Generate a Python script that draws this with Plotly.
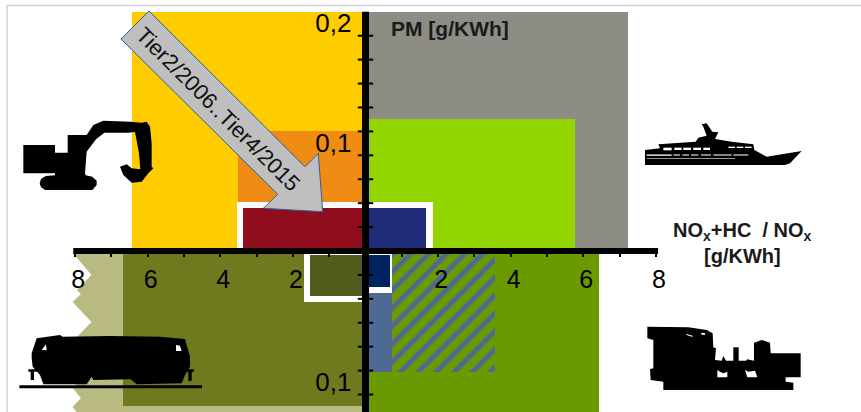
import plotly.graph_objects as go

W, H = 861, 412
X0_PX, X_UNIT = 365.5, 36.3
Y0_PX, Y_UNIT = 251.0, 1196.0

# Limit regions: x0, x1, y0, y1 (NOx units / PM units), drawing order
region_names = ["yellow", "orange", "white_ul", "red", "gray", "lime", "white_ur", "blue",
                "olive", "white_ll", "dark_olive", "green", "steel", "hatch", "white_lr", "navy"]
region_x0 = [-6.43, -3.51, -3.53, -3.37, 0, 0, 0, 0, -6.68, -1.69, -1.53, 0, 0, 0.73, 0, 0]
region_x1 = [0, 0, 0, 0, 7.23, 5.77, 1.85, 1.67, 0, 0, 0, 6.43, 0.73, 3.57, 0.73, 0.67]
region_y0 = [0, 0, 0, 0, 0, 0, 0, 0, -0.13, -0.043, -0.0376, -0.15, -0.101, -0.101, -0.035, -0.03]
region_y1 = [0.2, 0.1, 0.041, 0.036, 0.2, 0.11, 0.041, 0.036, 0, 0, -0.0036, 0, 0, 0, 0, -0.0036]
region_colors = ["#FFCC00", "#F08C14", "#FFFFFF", "#8F0D1C", "#8D8D86", "#92D500", "#FFFFFF", "#1F2D78",
                 "#6F7A1F", "#FFFFFF", "#525A1C", "#6B9900", "#4E6A92", "#6B9900", "#FFFFFF", "#00245F"]

# Pale region with a torn left edge
pale_x = [-8.08, -7.55, -7.95, -7.84, -8.07, -7.55, -7.95, -7.84, -8.07, -7.55, -8.07, -7.84, -8.07, -7.96, 0, 0]
pale_y = [-0.001, -0.0201, -0.0326, -0.036, -0.0427, -0.0594, -0.072, -0.0753, -0.0819, -0.0987, -0.1146,
          -0.123, -0.1305, -0.1346, -0.1346, 0]

x_major = [-8, -6, -4, -2, 2, 4, 6, 8]
x_labels = ["8", "6", "4", "2", "2", "4", "6", "8"]
x_minor = [-7, -5, -3, -1, 1, 3, 5, 7]
y_ticks = [0.18, 0.16, 0.14, 0.12, 0.1, 0.08, 0.06, 0.04, 0.02, -0.02, -0.04, -0.06, -0.08, -0.1, -0.12]
y_label_vals = [0.2, 0.1, -0.1]
y_labels = ["0,2", "0,1", "0,1"]

arrow_px = [(149, 11), (121, 39), (277.7, 194.3), (263.3, 208.3), (322.7, 211.7), (318.3, 153.3), (305, 166.7)]

def from_zoom(points, ox, oy, s=3.0):
    return [(ox + a / s, oy + b / s) for a, b in points]

excavator = from_zoom([(25,105),(120,105),(120,128),(158,128),(158,75),(215,75),(235,45),(265,32),(345,35),
    (380,38),(395,35),(405,50),(410,100),(410,170),(415,175),(400,190),(380,215),(350,218),(325,195),(315,170),
    (335,163),(350,175),(376,178),(372,130),(360,66),(340,68),(268,68),(243,88),(215,125),(210,190),(212,196),
    (232,200),(245,212),(245,225),(232,240),(90,240),(78,232),(74,220),(78,207),(92,198),(120,196),(120,190),(25,190)], 15, 110)
ship = from_zoom([(30,150),(30,105),(75,100),(70,88),(182,80),(190,68),(215,62),(205,35),(200,28),(215,25),
    (232,50),(250,52),(240,72),(290,80),(355,88),(358,105),(395,125),(500,108),(465,145),(450,150)], 635, 115)
ship_windows = [from_zoom(r, 635, 115) for r in [
    [(85,98),(110,98),(110,106),(85,106)], [(118,98),(140,98),(140,105),(118,105)],
    [(145,98),(168,98),(168,105),(145,105)], [(175,98),(198,98),(198,105),(175,105)],
    [(205,98),(225,98),(225,105),(205,105)], [(280,95),(300,95),(300,99),(280,99)],
    [(305,95),(325,95),(325,99),(305,99)], [(330,95),(350,95),(350,99),(330,99)],
    [(35,118),(110,118),(110,123),(35,123)], [(115,118),(135,118),(135,122),(115,122)],
    [(142,118),(162,118),(162,122),(142,122)], [(168,118),(190,118),(190,122),(168,122)],
    [(198,118),(228,118),(228,122),(198,122)], [(235,118),(290,118),(290,122),(235,122)],
    [(295,118),(340,118),(340,122),(295,122)], [(35,129),(300,129),(300,131),(35,131)]]]
generator = from_zoom([(22,20),(145,22),(200,30),(218,40),(220,82),(228,85),(225,120),(245,122),(250,108),
    (258,122),(280,122),(280,82),(296,82),(296,122),(318,122),(322,118),(342,122),(342,68),(365,60),(390,68),
    (392,100),(482,100),(482,172),(437,172),(437,185),(460,188),(460,210),(70,210),(70,185),(32,180),(30,148),
    (40,145),(40,60),(22,55)], 640, 320)
generator_holes = [from_zoom(r, 640, 320) for r in [
    [(232,150),(240,155),(250,160),(262,155),(262,172),(232,172)],
    [(315,150),(325,155),(345,152),(352,172),(322,172)],
    [(140,42),(160,48),(155,50),(138,44)], [(183,38),(196,40),(194,45),(185,44)]]]
loco = from_zoom([(80,40),(150,30),(158,35),(300,33),(450,35),(525,42),(540,95),(540,125),(525,150),(515,175),
    (380,178),(362,163),(250,165),(245,155),(230,178),(100,178),(90,150),(68,125),(65,100),(65,85)], 10, 325)
loco_buffers = [from_zoom(r, 10, 325) for r in [
    [(55,133),(85,133),(85,140),(72,140),(72,165),(62,165),(62,140),(55,140)],
    [(520,133),(552,133),(552,140),(545,140),(545,168),(535,168),(535,140),(520,140)]]]
loco_windows = [from_zoom(r, 10, 325) for r in [[(95,75),(108,58),(110,76)], [(498,60),(510,62),(515,78),(498,78)]]]
rail = from_zoom([(28,181),(576,181),(576,190),(28,190)], 10, 325)


def px_path(points):
    pts = [f"{x / W:.5f},{1 - y / H:.5f}" for x, y in points]
    return "M" + " L".join(pts) + " Z"


def px_shape(points, fill, line_color=None, line_width=0):
    return dict(type="path", xref="paper", yref="paper", path=px_path(points), fillcolor=fill,
                line=dict(color=line_color or fill, width=line_width), layer="above")


fig = go.Figure()

for i, name in enumerate(region_names):
    marker = dict(color=region_colors[i], line=dict(width=0))
    if name == "hatch":
        marker["pattern"] = dict(shape="/", fgcolor="#4E6A92", bgcolor="#6B9900", size=12.7, solidity=0.38,
                                 fillmode="replace")
    fig.add_trace(go.Bar(x=[(region_x0[i] + region_x1[i]) / 2], width=[region_x1[i] - region_x0[i]],
                         y=[region_y1[i] - region_y0[i]], base=[region_y0[i]], marker=marker,
                         name=name, showlegend=False, hoverinfo="skip"))

# Axis cross
fig.add_trace(go.Scatter(x=[-8.05, 8.06], y=[0, 0], mode="lines", line=dict(color="black", width=6),
                         showlegend=False, hoverinfo="skip"))
fig.add_trace(go.Scatter(x=[0, 0], y=[0.2, -0.1346], mode="lines", line=dict(color="black", width=7),
                         showlegend=False, hoverinfo="skip"))
fig.add_trace(go.Scatter(x=[0] * len(y_ticks), y=y_ticks, mode="markers",
                         marker=dict(symbol="line-ew", size=11, line=dict(color="black", width=2)),
                         showlegend=False, hoverinfo="skip"))

shapes = [
    dict(type="path", xref="x", yref="y", layer="below", fillcolor="#B8BA82", line=dict(width=0),
         path="M" + " L".join(f"{a},{b}" for a, b in zip(pale_x, pale_y)) + " Z"),
    dict(type="line", xref="paper", yref="paper", x0=7 / W, x1=7 / W, y0=0, y1=1 - 5 / H,
         line=dict(color="#D2D2D2", width=1.5), layer="below"),
    dict(type="line", xref="paper", yref="paper", x0=7 / W, x1=1, y0=1 - 5.5 / H, y1=1 - 5.5 / H,
         line=dict(color="#D2D2D2", width=1.5), layer="below"),
    px_shape(arrow_px, "#BFBFBF", "#2F5D9B", 1),
    px_shape(excavator, "black"),
    px_shape(ship, "black"),
    px_shape(generator, "black"),
    px_shape(loco, "black"),
    px_shape(rail, "black"),
]
shapes += [px_shape(r, "black") for r in loco_buffers]
shapes += [px_shape(r, "#FFFFFF") for r in ship_windows[:8]]
shapes += [px_shape(r, "#C8C8C8") for r in ship_windows[8:]]
shapes += [px_shape(r, "#FFFFFF") for r in generator_holes + loco_windows]

ANN = "Liberation Sans, Arial, sans-serif"
annotations = [
    dict(text="Tier2/2006..Tier4/2015", x=218.5 / W, y=1 - 109 / H, textangle=45,
         font=dict(family=ANN, size=22, color="#111111")),
    dict(text="<b>PM [g/KWh]</b>", x=450 / W, y=1 - 29 / H, font=dict(family=ANN, size=21, color="#1A1A1A")),
    dict(text="<b>NO<sub>x</sub>+HC  / NO<sub>x</sub></b>", x=742 / W, y=1 - 231 / H,
         font=dict(family=ANN, size=20, color="#1A1A1A")),
    dict(text="<b>[g/KWh]</b>", x=742 / W, y=1 - 256 / H, font=dict(family=ANN, size=20, color="#1A1A1A")),
]
for a in annotations:
    a.update(xref="paper", yref="paper", showarrow=False, xanchor="center", yanchor="middle")

fig.update_layout(
    width=W, height=H, margin=dict(l=0, r=0, t=0, b=0, pad=0, autoexpand=False),
    paper_bgcolor="white", plot_bgcolor="rgba(0,0,0,0)", barmode="overlay", showlegend=False,
    bargap=0, shapes=shapes, annotations=annotations, font=dict(family=ANN),
    xaxis=dict(range=[(0 - X0_PX) / X_UNIT, (W - X0_PX) / X_UNIT], anchor="free",
               position=1 - Y0_PX / H, showgrid=False, zeroline=False, showline=False,
               tickmode="array", tickvals=x_major, ticktext=x_labels, ticks="outside", ticklen=5, tickwidth=2,
               tickcolor="black", tickangle=0, ticklabelstandoff=1, ticklabelshift=3,
               minor=dict(tickmode="array", tickvals=x_minor, ticks="outside", ticklen=5, tickwidth=2,
                          tickcolor="black", showgrid=False),
               tickfont=dict(family=ANN, size=25, color="black"), fixedrange=True),
    yaxis=dict(range=[(Y0_PX - H) / Y_UNIT, Y0_PX / Y_UNIT], anchor="free",
               position=X0_PX / W, showgrid=False, zeroline=False, showline=False,
               tickmode="array", tickvals=y_label_vals, ticktext=y_labels, ticks="", ticklabelstandoff=14,
               ticklabelshift=11, tickfont=dict(family=ANN, size=26, color="black"), fixedrange=True),
)

fig.write_html("out.html", config={"displayModeBar": False},
               post_script="document.body.style.margin='0';document.body.style.overflow='hidden';")
